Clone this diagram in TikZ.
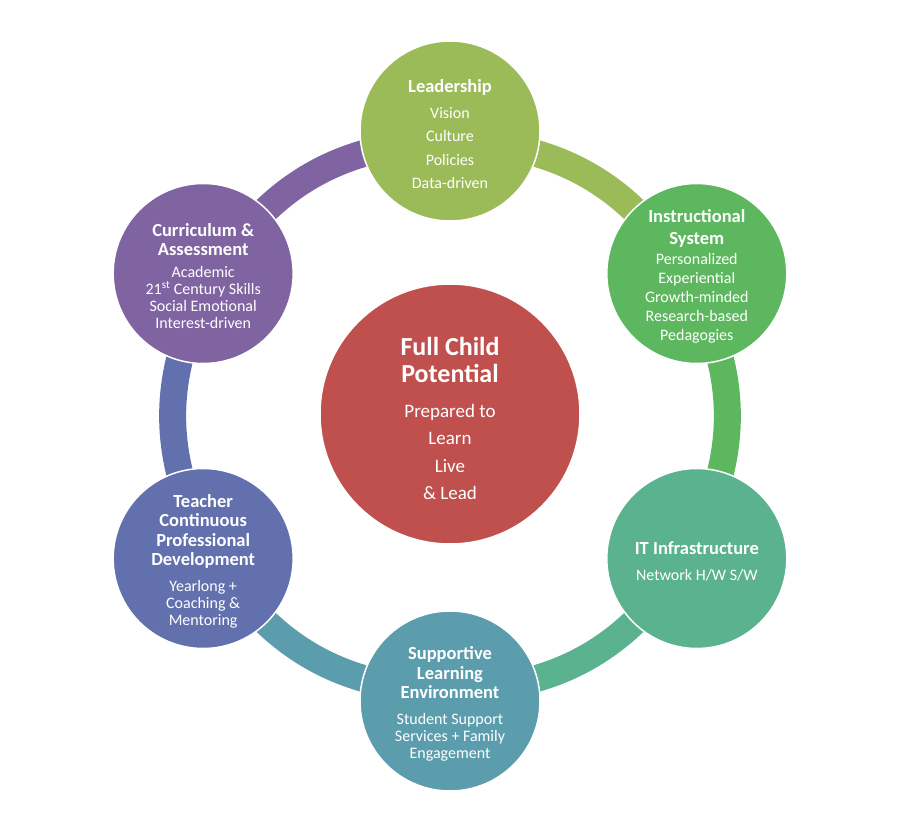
\documentclass[tikz,border=0pt]{standalone}
\usepackage{fontspec}
\setmainfont{Carlito}
\usetikzlibrary{backgrounds}
\definecolor{lead}{HTML}{9BBB59}
\definecolor{instr}{HTML}{5DB75E}
\definecolor{infra}{HTML}{5BB28F}
\definecolor{supp}{HTML}{5B9DAD}
\definecolor{teach}{HTML}{6370AE}
\definecolor{curr}{HTML}{8064A2}
\definecolor{core}{HTML}{C0504D}
\newcommand{\hd}[1]{{\bfseries\fontsize{18.5}{18.5}\selectfont #1}}
\newcommand{\hdtop}[1]{\hd{\rule{0pt}{19pt}#1}}

\begin{document}
\begin{tikzpicture}[x=1pt,y=1pt,
  hub/.style={circle,draw=white,line width=1.5pt,text=white,align=center,minimum size=180pt,inner sep=0pt},
  band/.style={line width=27pt}]
\useasboundingbox (-450,-417) rectangle (450,416);
\foreach \a in {90,30,-30,-90,-150,150}
  \coordinate (r\a) at (\a:274);
% outer ring of topics
\node[hub,fill=lead,font=\fontsize{16}{23.5}\selectfont] (lead) at (90:285)
  {\hdtop{Leadership}\\[2.5pt]Vision\\Culture\\Policies\\Data-driven};
\node[hub,fill=instr,font=\fontsize{16}{19}\selectfont] (instr) at (30:285)
  {\hdtop{Instructional}\\[3pt]\hd{System}\\[1pt]Personalized\\Experiential\\Growth-minded\\Research-based\\Pedagogies};
\node[hub,fill=infra,font=\fontsize{16}{26}\selectfont] (infra) at (-30:285)
  {\hdtop{IT Infrastructure}\\Network H/W S/W};
\node[hub,fill=supp,font=\fontsize{16}{17}\selectfont] (supp) at (-90:285)
  {\hdtop{Supportive}\\[2.5pt]\hd{Learning}\\[2.5pt]\hd{Environment}\\[9pt]Student Support\\Services + Family\\Engagement};
\node[hub,fill=teach,font=\fontsize{16}{17}\selectfont] (teach) at (-150:285)
  {\hdtop{Teacher}\\[2.5pt]\hd{Continuous}\\[2.5pt]\hd{Professional}\\[2.5pt]\hd{Development}\\[9pt]Yearlong +\\Coaching \&\\Mentoring};
\node[hub,fill=curr,font=\fontsize{16}{17}\selectfont] (curr) at (150:285)
  {\hdtop{Curriculum \&}\\[2pt]\hd{Assessment}\\[5pt]Academic\\21\textsuperscript{st} Century Skills\\Social Emotional\\Interest-driven};
% centre
\node[hub,fill=core,minimum size=260pt,font=\fontsize{19}{27.5}\selectfont] (core) at (0,2)
  {{\bfseries\fontsize{26}{26}\selectfont\rule{0pt}{27pt}Full Child}\\[-0.5pt]{\bfseries\fontsize{26}{26}\selectfont Potential}\\[7.5pt]Prepared to\\Learn\\Live\\\& Lead};
\begin{scope}[on background layer]
\foreach \a/\b/\c in {90/30/lead,30/-30/instr,-30/-90/infra,-90/-150/supp,-150/150/teach,150/90/curr}
  \draw[band,\c] (r\a) to[bend left=30] (r\b);
\end{scope}
\end{tikzpicture}
\end{document}
